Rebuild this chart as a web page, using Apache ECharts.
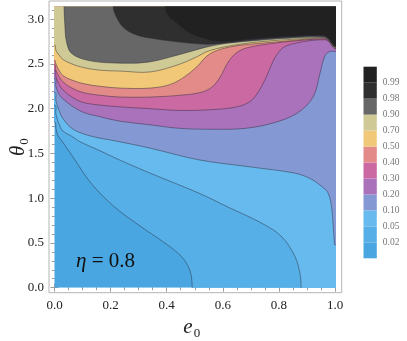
<!DOCTYPE html>
<html>
<head>
<meta charset="utf-8">
<script src="https://cdn.jsdelivr.net/npm/echarts@6/dist/echarts.min.js"></script>
<style>
html, body { margin: 0; padding: 0; background: #fff; }
#chart { width: 407px; height: 341px; }
</style>
</head>
<body>
<div id="chart"></div>
<script>
// contour levels (legend labels) and band colours, lowest band first
var levels = ['0.02', '0.05', '0.10', '0.20', '0.30', '0.40', '0.50', '0.70', '0.90', '0.98', '0.99'];
var bandColors = ['#4aa6e0', '#56afe7', '#66baed', '#8499d4', '#ab72bc', '#cb69a2', '#e38b89',
                  '#f1c878', '#cfca95', '#676767', '#2f2f2f', '#212121'];

// tick labels
var xTicks = [0, 0.2, 0.4, 0.6, 0.8, 1.0];
var yTicks = [0, 0.5, 1.0, 1.5, 2.0, 2.5, 3.0];

// contour lines [e0, theta0]
var c002 = [[0,1.85],[0.005,1.78],[0.012,1.70],[0.024,1.65],[0.066,1.46],[0.131,1.165],[0.215,0.90],
            [0.309,0.68],[0.393,0.50],[0.452,0.35],[0.482,0.20],[0.491,0]];
var c005 = [[0,2.04],[0.005,1.94],[0.016,1.83],[0.03,1.75],[0.062,1.69],[0.091,1.63],[0.162,1.53],
            [0.216,1.45],[0.333,1.29],[0.512,1.06],[0.619,0.90],[0.739,0.72],[0.81,0.57],[0.857,0.35],
            [0.875,0.16],[0.879,0]];
var c010 = [[0,2.18],[0.005,2.09],[0.016,1.98],[0.03,1.89],[0.062,1.78],[0.102,1.72],[0.162,1.67],
            [0.201,1.65],[0.34,1.56],[0.512,1.43],[0.697,1.35],[0.857,1.28],[0.911,1.22],[0.953,1.13],
            [0.975,1.06],[0.988,0.90],[0.993,0.72],[0.998,0.50],[1,0.48]];
var c020 = [[0,2.34],[0.005,2.25],[0.016,2.16],[0.03,2.11],[0.062,2.03],[0.102,1.96],[0.162,1.91],
            [0.234,1.86],[0.34,1.82],[0.447,1.78],[0.565,1.77],[0.679,1.78],[0.779,1.84],[0.865,1.95],
            [0.922,2.13],[0.947,2.40],[0.964,2.59],[0.982,2.64],[1,2.64]];
var c030 = [[0,2.43],[0.005,2.36],[0.016,2.27],[0.03,2.21],[0.062,2.13],[0.102,2.07],[0.162,2.04],
            [0.234,2.02],[0.34,2.00],[0.447,1.98],[0.565,1.99],[0.65,2.02],[0.697,2.08],[0.725,2.18],
            [0.75,2.32],[0.768,2.45],[0.786,2.57],[0.814,2.68],[0.857,2.73],[0.911,2.76],[0.957,2.77],
            [0.975,2.76],[0.99,2.70],[1,2.67]];
var c040 = [[0,2.49],[0.005,2.43],[0.016,2.36],[0.03,2.30],[0.062,2.23],[0.102,2.18],[0.162,2.15],
            [0.234,2.13],[0.34,2.13],[0.447,2.15],[0.519,2.18],[0.561,2.24],[0.59,2.35],[0.619,2.52],
            [0.647,2.62],[0.686,2.68],[0.779,2.73],[0.865,2.76],[0.957,2.78],[0.975,2.765],[0.99,2.705],
            [1,2.675]];
var c050 = [[0,2.54],[0.005,2.50],[0.016,2.43],[0.03,2.37],[0.062,2.32],[0.102,2.28],[0.162,2.25],
            [0.234,2.23],[0.34,2.23],[0.412,2.27],[0.465,2.36],[0.508,2.47],[0.544,2.59],[0.579,2.65],
            [0.643,2.70],[0.732,2.73],[0.804,2.75],[0.875,2.77],[0.957,2.79],[0.975,2.77],[0.99,2.71],
            [1,2.68]];
var c070 = [[0,2.71],[0.005,2.65],[0.016,2.60],[0.03,2.55],[0.062,2.50],[0.102,2.46],[0.162,2.43],
            [0.234,2.42],[0.34,2.41],[0.44,2.49],[0.501,2.57],[0.554,2.65],[0.661,2.72],[0.779,2.76],
            [0.875,2.78],[0.957,2.795],[0.975,2.775],[0.99,2.715],[1,2.685]];
var c090 = [[0.034,3.1416],[0.037,2.93],[0.042,2.76],[0.06,2.62],[0.119,2.54],[0.215,2.51],[0.333,2.52],
            [0.44,2.60],[0.544,2.69],[0.615,2.73],[0.732,2.765],[0.85,2.79],[0.957,2.80],[0.975,2.78],
            [0.99,2.72],[1,2.69]];
var c098 = [[0.209,3.1416],[0.223,3.01],[0.248,2.90],[0.287,2.83],[0.34,2.79],[0.43,2.75],[0.544,2.72],
            [0.626,2.74],[0.733,2.775],[0.85,2.80],[0.957,2.81],[0.975,2.785],[0.99,2.725],[1,2.695]];
var c099 = [[0.394,3.1416],[0.405,3.04],[0.43,2.97],[0.48,2.85],[0.537,2.78],[0.597,2.75],[0.722,2.785],
            [0.85,2.81],[0.957,2.82],[0.975,2.79],[0.99,2.73],[1,2.70]];

var contours = [c002, c005, c010, c020, c030, c040, c050, c070, c090, c098, c099];

var font = '"Liberation Serif", "DejaVu Serif", serif';
var tickColor = '#9a9a9a';

// minor tick positions between the labelled ones
function minorOf(major, step, n, top) {
    var out = [];
    for (var i = 0; i < major.length; i++) {
        for (var k = 1; k < n; k++) {
            var v = +(major[i] + k * step).toFixed(3);
            if (v < top) out.push(v);
        }
    }
    return out;
}
var xMinor = minorOf(xTicks, 0.05, 4, 1);
var yMinor = minorOf(yTicks, 0.1, 5, Math.PI);

function tickAxis(dim, pos, vals, len, offset, labels) {
    var ax = {
        type: 'value',
        gridIndex: 1,
        position: pos,
        min: 0,
        max: dim == 'x' ? 1 : Math.PI,
        offset: offset,
        axisLine: { show: false },
        splitLine: { show: false },
        axisTick: { show: true, inside: true, length: len, customValues: vals,
                    lineStyle: { color: tickColor, width: 1 } },
        axisLabel: { show: false }
    };
    if (labels) {
        ax.axisLabel = {
            show: true,
            customValues: vals,
            formatter: function (v) { return v.toFixed(1); },
            fontFamily: font,
            fontSize: 13,
            color: '#222',
            margin: dim == 'x' ? 6 : 5
        };
    }
    return ax;
}

var nameRich = {
    i: { fontFamily: font, fontStyle: 'italic', fontSize: 21, color: '#222', verticalAlign: 'top', lineHeight: 21 },
    s: { fontFamily: font, fontSize: 13, color: '#222', verticalAlign: 'top', padding: [10, 0, 0, 1] }
};
var xBottom = tickAxis('x', 'bottom', xTicks, 4, 5, true);
xBottom.name = '{i|e}{s|0}';
xBottom.nameLocation = 'middle';
xBottom.nameGap = 24;
xBottom.nameTextStyle = { rich: nameRich, padding: [0, 6, 0, 0] };
var yLeft = tickAxis('y', 'left', yTicks, 4, 5.5, true);
yLeft.name = '{i|θ}{s|0}';
yLeft.nameLocation = 'middle';
yLeft.nameRotate = 90;
yLeft.nameGap = 18;
yLeft.nameMoveOverlap = false;
yLeft.nameTextStyle = { rich: nameRich };

// push a contour end just past the edge it meets, so smoothing and outlines stay outside the plot
function pastEdge(p) {
    if (p[0] >= 1) return [1.5, p[1]];
    if (p[1] <= 0) return [p[0], -0.8];
    if (p[1] >= 3.14) return [p[0], 4.5];
    return [-0.5, p[1]];
}

var chart = echarts.init(document.getElementById('chart'), null, { renderer: 'canvas' });

chart.setOption({
    animation: false,
    backgroundColor: '#fff',
    title: {
        text: '{i|η} = 0.8',
        left: 71,
        top: 246,
        textStyle: {
            fontFamily: font, fontSize: 21, fontWeight: 'normal', color: '#111',
            rich: { i: { fontFamily: font, fontStyle: 'italic', fontSize: 21, color: '#111' } }
        }
    },
    grid: [
        // outer frame
        { left: 49, top: 1, width: 292.7, height: 291.7, show: true, borderColor: '#b5b5b5', borderWidth: 1,
          backgroundColor: 'transparent', outerBoundsMode: 'none', containLabel: false },
        // plotted region
        { left: 54.5, top: 6.5, width: 280.5, height: 281.2, outerBoundsMode: 'none', containLabel: false },
        // legend swatches
        { left: 363.5, top: 66.7, width: 13.3, height: 191.6, outerBoundsMode: 'none', containLabel: false }
    ],
    xAxis: [
        { type: 'value', gridIndex: 0, show: false, min: 0, max: 1 },
        xBottom,
        tickAxis('x', 'bottom', xMinor, 2.5, 5, false),
        tickAxis('x', 'top', xTicks, 4, 5.5, false),
        tickAxis('x', 'top', xMinor, 2.5, 5.5, false),
        { type: 'value', gridIndex: 2, show: false, min: 0, max: 1 }
    ],
    yAxis: [
        { type: 'value', gridIndex: 0, show: false, min: 0, max: 1 },
        yLeft,
        tickAxis('y', 'left', yMinor, 2.5, 5.5, false),
        tickAxis('y', 'right', yTicks, 4, 6.7, false),
        tickAxis('y', 'right', yMinor, 2.5, 6.7, false),
        {
            type: 'value', gridIndex: 2, position: 'right', min: 0, max: 12,
            axisLine: { show: false }, axisTick: { show: false }, splitLine: { show: false },
            axisLabel: {
                customValues: [1, 2, 3, 4, 5, 6, 7, 8, 9, 10, 11],
                formatter: function (v) { return levels[v - 1]; },
                fontFamily: font, fontSize: 9.5, color: '#777', margin: 6
            }
        }
    ],
    series: [
        {
            // filled bands, painted from the lowest level up, each outlined by its contour
            type: 'custom',
            xAxisIndex: 1,
            yAxisIndex: 1,
            clip: true,
            data: bandColors.map(function (c, i) { return [i, 0]; }),
            renderItem: function (params, api) {
                var i = api.value(0);
                if (i === 0) {
                    var a = api.coord([0, Math.PI]);
                    var b = api.coord([1, 0]);
                    return {
                        type: 'rect',
                        shape: { x: a[0], y: a[1], width: b[0] - a[0], height: b[1] - a[1] },
                        style: { fill: bandColors[0] }
                    };
                }
                var pts = contours[i - 1];
                var first = pts[0], last = pts[pts.length - 1];
                var poly = pts.slice();
                poly.push(pastEdge(last));
                if (last[1] <= 0) poly.push([1.5, -0.8]);
                poly.push([1.5, 4.5]);
                poly.push([-0.5, 4.5]);
                poly.push(pastEdge(first));
                return {
                    type: 'polygon',
                    shape: { points: poly.map(function (p) { return api.coord(p); }), smooth: 0.35 },
                    style: { fill: bandColors[i], stroke: 'rgba(45,45,60,0.6)', lineWidth: 0.8 }
                };
            }
        },
        {
            // legend bar
            type: 'custom',
            xAxisIndex: 5,
            yAxisIndex: 5,
            data: bandColors.map(function (c, i) { return [0, i]; }),
            renderItem: function (params, api) {
                var i = api.value(1);
                var a = api.coord([0, i + 1]);
                var b = api.coord([1, i]);
                return {
                    type: 'rect',
                    shape: { x: a[0], y: a[1], width: b[0] - a[0], height: b[1] - a[1] },
                    style: { fill: bandColors[i] }
                };
            }
        }
    ]
});
</script>
</body>
</html>
